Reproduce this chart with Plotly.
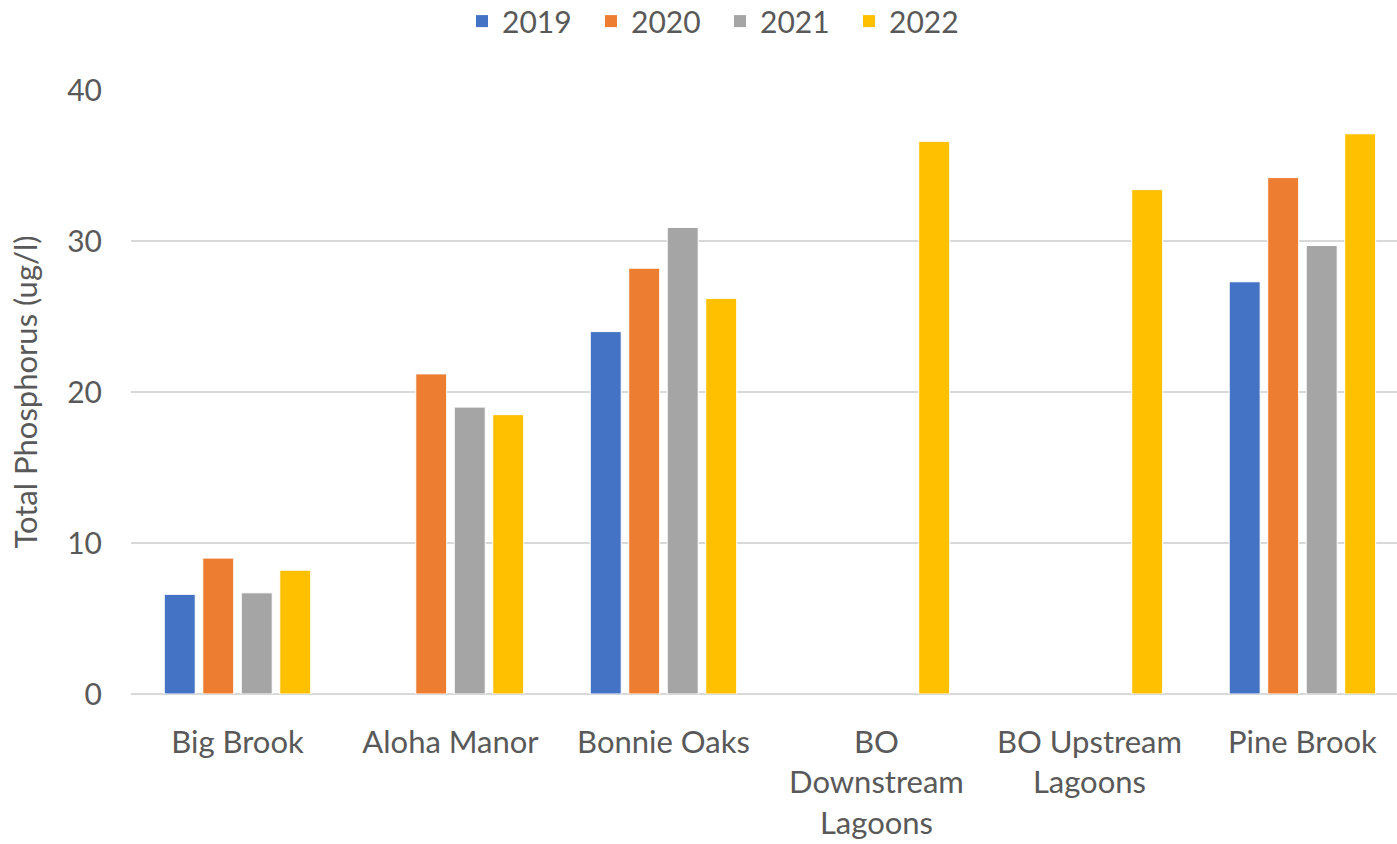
import plotly.graph_objects as go

# Sampling sites and yearly total phosphorus (ug/l); None = not sampled that year
sites = ["Big Brook", "Aloha Manor", "Bonnie Oaks", "BO<br>Downstream<br>Lagoons",
         "BO Upstream<br>Lagoons", "Pine Brook"]
years = ["2019", "2020", "2021", "2022"]
tp_2019 = [6.6, None, 24.0, None, None, 27.3]
tp_2020 = [9.0, 21.2, 28.2, None, None, 34.2]
tp_2021 = [6.7, 19.0, 30.9, None, None, 29.7]
tp_2022 = [8.2, 18.5, 26.2, 36.6, 33.4, 37.1]
y_ticks = [0, 10, 20, 30, 40]

series = [tp_2019, tp_2020, tp_2021, tp_2022]
colors = ["#4472C4", "#ED7D31", "#A5A5A5", "#FFC000"]

FONT = "Lato"
TXT = "#595959"

fig = go.Figure()
for name, vals, col in zip(years, series, colors):
    fig.add_trace(go.Bar(
        x=list(range(len(sites))), y=vals, name=name, showlegend=False,
        marker=dict(color=col, line=dict(color="white", width=1)),
    ))
# square swatches for the legend
for name, col in zip(years, colors):
    fig.add_trace(go.Scatter(
        x=[None], y=[None], name=name, mode="markers",
        marker=dict(symbol="square", size=17, color=col),
    ))

fig.update_layout(
    width=1397, height=844,
    margin=dict(l=131, r=0, t=90, b=150),
    paper_bgcolor="white", plot_bgcolor="white",
    barmode="group", bargap=0.277, bargroupgap=0.196,
    font=dict(family=FONT, color=TXT, size=30),
    showlegend=True,
    legend=dict(orientation="h", xref="container", yref="container",
                x=462 / 1397, xanchor="left", y=0.975, yanchor="middle",
                font=dict(size=30, color=TXT), itemsizing="constant",
                traceorder="normal", entrywidth=84, entrywidthmode="pixels"),
    xaxis=dict(
        range=[-0.5, 5.444], tickmode="array",
        tickvals=list(range(len(sites))), ticktext=sites,
        showgrid=False, zeroline=False, showline=False,
        ticks="", ticklabelstandoff=27,
        tickfont=dict(size=31, color=TXT),
    ),
    yaxis=dict(
        range=[0, 40], tickmode="array", tickvals=y_ticks,
        showgrid=True, gridcolor="#D9D9D9", gridwidth=1.5,
        zeroline=True, zerolinecolor="#D9D9D9", zerolinewidth=1.5,
        showline=False, ticks="", ticklabelstandoff=28,
        tickfont=dict(size=30, color=TXT),
        title=dict(text="Total Phosphorus (ug/l)", font=dict(size=31, color=TXT), standoff=20),
    ),
)

fig.write_html("out.html")
